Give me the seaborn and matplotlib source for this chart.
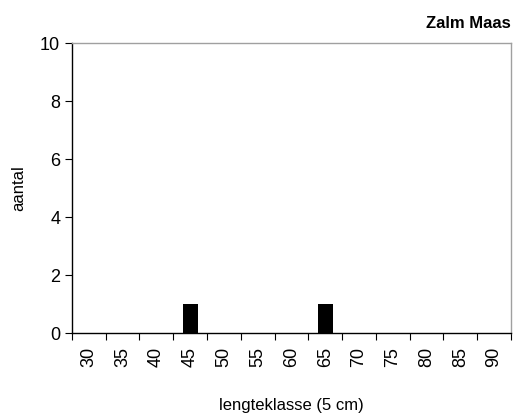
import pandas as pd
import seaborn as sns
import matplotlib.pyplot as plt
from matplotlib.ticker import FixedLocator

# lengteklassen en aantallen
klassen = ['30', '35', '40', '45', '50', '55', '60', '65', '70', '75', '80', '85', '90']
aantal = [0, 0, 0, 1, 0, 0, 0, 1, 0, 0, 0, 0, 0]

df = pd.DataFrame({'klasse': klassen, 'aantal': aantal})

sns.set_style('white')
plt.rcParams['font.family'] = ['Liberation Sans', 'DejaVu Sans']
plt.rcParams['text.color'] = 'black'
plt.rcParams['axes.labelcolor'] = 'black'
plt.rcParams['xtick.color'] = 'black'
plt.rcParams['ytick.color'] = 'black'

fig = plt.figure(figsize=(5.14, 4.16), dpi=100)
ax = fig.add_axes([0.140, 0.1995, 0.854, 0.697])

sns.barplot(data=df, x='klasse', y='aantal', color='black', width=0.45,
            saturation=1, linewidth=0, ax=ax)

ax.set_xlim(-0.5, len(klassen) - 0.5)
ax.set_ylim(0, 10)
ax.set_yticks([0, 2, 4, 6, 8, 10])

# labels in het midden, streepjes op de grenzen
ax.tick_params(axis='x', which='major', length=0, labelsize=13, labelrotation=90, pad=10)
ax.xaxis.set_minor_locator(FixedLocator([i - 0.5 for i in range(len(klassen) + 1)]))
ax.tick_params(axis='x', which='minor', length=5, width=0.8, color='black', direction='out', bottom=True)
ax.tick_params(axis='y', length=5, width=0.8, color='black', direction='out', left=True, labelsize=13)

for s in ['left', 'bottom']:
    ax.spines[s].set_color('black')
    ax.spines[s].set_linewidth(1)
for s in ['top', 'right']:
    ax.spines[s].set_color('#a0a0a0')
    ax.spines[s].set_linewidth(1)

ax.set_xlabel('lengteklasse (5 cm)', fontsize=12, labelpad=22, color='black')
ax.set_ylabel('aantal', fontsize=12, labelpad=10, color='black')
fig.text(0.994, 0.925, 'Zalm Maas', ha='right', va='bottom', fontsize=12,
         fontweight='bold', color='black')

fig.savefig('out.png', dpi=100)
